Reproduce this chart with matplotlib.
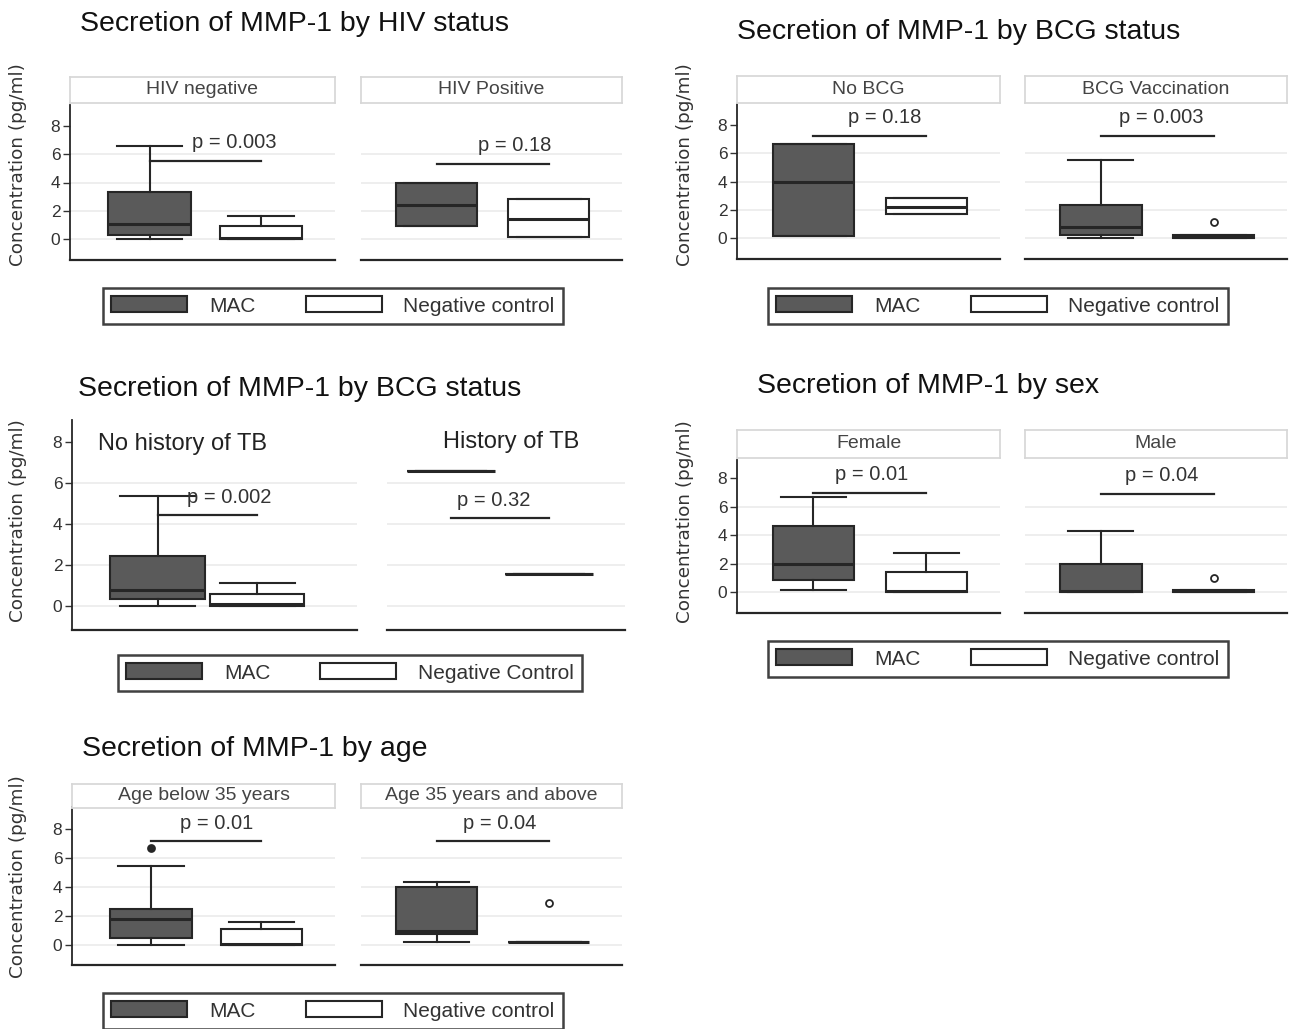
import matplotlib
matplotlib.use("Agg")
import matplotlib.pyplot as plt
from matplotlib.patches import Patch

W, H = 1289, 1029

# ---------------- data ----------------
# box stats per facet: (whislo, q1, med, q3, whishi)
HIV_FACETS = ["HIV negative", "HIV Positive"]
HIV_MAC = [(0.0, 0.29, 1.07, 3.33, 6.6), (0.93, 0.93, 2.38, 3.93, 3.93)]
HIV_NEG = [(0.0, 0.0, 0.05, 0.95, 1.6), (0.12, 0.12, 1.4, 2.83, 2.83)]
HIV_MAC_OUT = [[], []]
HIV_NEG_OUT = [[], []]
HIV_P = ["p = 0.003", "p = 0.18"]
HIV_PBAR = [5.52, 5.33]

BCG_FACETS = ["No BCG", "BCG Vaccination"]
BCG_MAC = [(0.12, 0.12, 3.93, 6.64, 6.64), (0.0, 0.24, 0.76, 2.36, 5.52)]
BCG_NEG = [(1.71, 1.71, 2.19, 2.83, 2.83), (0.0, 0.0, 0.08, 0.18, 0.18)]
BCG_MAC_OUT = [[], []]
BCG_NEG_OUT = [[], [1.12]]
BCG_P = ["p = 0.18", "p = 0.003"]
BCG_PBAR = [7.24, 7.24]

TB_FACETS = ["No history of TB", "History of TB"]
TB_MAC = [(0.0, 0.31, 0.74, 2.43, 5.36), (6.6, 6.6, 6.6, 6.6, 6.6)]
TB_NEG = [(0.0, 0.0, 0.08, 0.58, 1.12), (1.53, 1.53, 1.53, 1.53, 1.53)]
TB_MAC_OUT = [[], []]
TB_NEG_OUT = [[], []]
TB_P = ["p = 0.002", "p = 0.32"]
TB_PBAR = [4.42, 4.29]

SEX_FACETS = ["Female", "Male"]
SEX_MAC = [(0.16, 0.88, 1.97, 4.64, 6.66), (0.0, 0.05, 0.12, 1.97, 4.29)]
SEX_NEG = [(0.0, 0.0, 0.12, 1.39, 2.78), (0.0, 0.0, 0.08, 0.18, 0.18)]
SEX_MAC_OUT = [[], []]
SEX_NEG_OUT = [[], [0.97]]
SEX_P = ["p = 0.01", "p = 0.04"]
SEX_PBAR = [6.96, 6.9]

AGE_FACETS = ["Age below 35 years", "Age 35 years and above"]
AGE_MAC = [(0.0, 0.46, 1.74, 2.48, 5.4), (0.19, 0.77, 0.93, 4.0, 4.35)]
AGE_NEG = [(0.0, 0.0, 0.07, 1.11, 1.55), (0.19, 0.19, 0.19, 0.19, 0.19)]
AGE_MAC_OUT = [[6.66], []]
AGE_NEG_OUT = [[], [2.9]]
AGE_P = ["p = 0.01", "p = 0.04"]
AGE_PBAR = [7.13, 7.13]

YTICKS = [0, 2, 4, 6, 8]
GRID = [0, 2, 4, 6]

# ---------------- style ----------------
MAC_COLOR = "#5a5a5a"
EDGE = "#262626"
TXT = "#333333"
plt.rcParams["font.family"] = ["Liberation Sans", "DejaVu Sans"]

fig = plt.figure(figsize=(W / 100, H / 100), dpi=100)


def px_axes(x0, y0, x1, y1):
    return fig.add_axes([x0 / W, 1 - y1 / H, (x1 - x0) / W, (y1 - y0) / H])


def stats_of(box, out):
    lo, q1, med, q3, hi = box
    return dict(whislo=lo, q1=q1, med=med, q3=q3, whishi=hi, fliers=out)


def draw_panel(title, facets, mac, neg, mac_out, neg_out, pvals, pbars, lay,
               legend_labels=("MAC", "Negative control")):
    fig.text(lay["title"][0] / W, 1 - lay["title"][1] / H, title,
             fontsize=20.5, ha="left", va="center", color="#111111")
    fig.text(lay["ylabel"][0] / W, 1 - lay["ylabel"][1] / H, "Concentration (pg/ml)",
             family="DejaVu Sans", fontsize=13.2, rotation=90, ha="center", va="center",
             color=TXT)
    y0, y1 = lay["plot_y"]
    for i, (fx0, fx1) in enumerate(lay["facets"]):
        ax = px_axes(fx0, y0, fx1, y1)
        pos = lay["pos"][i]
        wd = lay["width"][i]
        for g in GRID:
            ax.axhline(g, color="#ebebeb", lw=1.2, zorder=0)
        art = ax.bxp([stats_of(mac[i], mac_out[i]), stats_of(neg[i], neg_out[i])],
                     positions=pos, widths=wd, capwidths=wd * 0.8,
                     patch_artist=True, showfliers=True,
                     boxprops=dict(edgecolor=EDGE, linewidth=1.5),
                     medianprops=dict(color=EDGE, linewidth=2.2),
                     whiskerprops=dict(color=EDGE, linewidth=1.5),
                     capprops=dict(color=EDGE, linewidth=1.5),
                     flierprops=dict(marker="o", markersize=5, markerfacecolor="white",
                                     markeredgecolor=EDGE, markeredgewidth=1.3))
        art["boxes"][0].set_facecolor(MAC_COLOR)
        art["boxes"][1].set_facecolor("white")
        art["fliers"][0].set_markerfacecolor(EDGE)
        # p-value bar
        ax.plot([pos[0], pos[1]], [pbars[i], pbars[i]], color=EDGE, lw=1.6)
        ax.annotate(pvals[i], xy=(lay["ptx"][i], pbars[i]), xytext=(0, 13),
                    textcoords="offset points", ha="center", va="center",
                    fontsize=14.5, color=TXT)
        ax.set_xlim(0, 1)
        ax.set_ylim(*lay["ylim"])
        ax.set_xticks([])
        for s in ("top", "right"):
            ax.spines[s].set_visible(False)
        ax.spines["bottom"].set_color(EDGE)
        ax.spines["bottom"].set_linewidth(1.6)
        if i == 0:
            ax.set_yticks(YTICKS)
            ax.set_yticklabels([str(t) for t in YTICKS])
            ax.tick_params(axis="y", length=5, width=1, color=TXT, labelsize=12.5,
                           labelcolor=TXT, pad=2)
            ax.spines["left"].set_color(EDGE)
            ax.spines["left"].set_linewidth(1.3)
        else:
            ax.set_yticks([])
            ax.spines["left"].set_visible(False)
        ax.patch.set_alpha(0)
        if lay["strip"] is not None:
            sa = px_axes(fx0, lay["strip"][0], fx1, lay["strip"][1])
            sa.set_xticks([])
            sa.set_yticks([])
            for sp in sa.spines.values():
                sp.set_color("#d6d6d6")
                sp.set_linewidth(1.2)
            sa.text(0.5, 0.5, facets[i], ha="center", va="center", fontsize=14,
                    color="#444444", transform=sa.transAxes)
        else:
            ax.text(lay["flab"][i][0], lay["flab"][i][1], facets[i], ha=lay["flab"][i][2],
                    va="center", fontsize=17, color="#222222")

    handles = [Patch(facecolor=MAC_COLOR, edgecolor=EDGE, linewidth=1.5),
               Patch(facecolor="white", edgecolor=EDGE, linewidth=1.5)]
    leg = fig.legend(handles, legend_labels, loc="center",
                     bbox_to_anchor=(lay["legend"][0] / W, 1 - lay["legend"][1] / H),
                     ncol=2, frameon=True, fancybox=False, fontsize=15,
                     handlelength=3.65, handleheight=0.8, handletextpad=1.05,
                     columnspacing=2.4, borderpad=0.4, borderaxespad=0)
    leg.get_frame().set_edgecolor("#111111")
    leg.get_frame().set_linewidth(1.8)
    for t in leg.get_texts():
        t.set_color(TXT)


LAY_A = dict(facets=[(70, 335), (361, 622)], plot_y=(105, 260), ylim=(-1.49, 9.49),
             strip=(77, 103), title=(80, 24), ylabel=(18, 165), legend=(333, 306),
             pos=[(0.30, 0.72), (0.29, 0.72)], width=[0.31, 0.31], ptx=[0.62, 0.59])
LAY_B = dict(facets=[(737, 1000), (1025, 1287)], plot_y=(104, 259), ylim=(-1.49, 9.49),
             strip=(76, 103), title=(737, 32), ylabel=(685, 165), legend=(998, 306),
             pos=[(0.29, 0.72), (0.29, 0.72)], width=[0.31, 0.31], ptx=[0.56, 0.52])
LAY_C = dict(facets=[(72, 357), (387, 625)], plot_y=(420, 630), ylim=(-1.2, 9.1),
             strip=None, title=(78, 389), ylabel=(18, 521), legend=(350, 673),
             pos=[(0.30, 0.65), (0.27, 0.68)], width=[0.33, 0.37], ptx=[0.55, 0.45],
             flab=[(0.09, 7.9, "left"), (0.52, 8.0, "center")])
LAY_D = dict(facets=[(737, 1000), (1025, 1287)], plot_y=(460, 613), ylim=(-1.45, 9.27),
             strip=(430, 458), title=(757, 386), ylabel=(685, 522), legend=(998, 659),
             pos=[(0.29, 0.72), (0.29, 0.72)], width=[0.31, 0.31], ptx=[0.51, 0.52])
LAY_E = dict(facets=[(72, 335), (361, 622)], plot_y=(807, 965), ylim=(-1.4, 9.5),
             strip=(784, 808), title=(82, 749), ylabel=(18, 877), legend=(333, 1011),
             pos=[(0.30, 0.72), (0.29, 0.72)], width=[0.31, 0.31], ptx=[0.55, 0.53])

draw_panel("Secretion of MMP-1 by HIV status", HIV_FACETS, HIV_MAC, HIV_NEG,
           HIV_MAC_OUT, HIV_NEG_OUT, HIV_P, HIV_PBAR, LAY_A)
draw_panel("Secretion of MMP-1 by BCG status", BCG_FACETS, BCG_MAC, BCG_NEG,
           BCG_MAC_OUT, BCG_NEG_OUT, BCG_P, BCG_PBAR, LAY_B)
draw_panel("Secretion of MMP-1 by BCG status", TB_FACETS, TB_MAC, TB_NEG,
           TB_MAC_OUT, TB_NEG_OUT, TB_P, TB_PBAR, LAY_C,
           legend_labels=("MAC", "Negative Control"))
draw_panel("Secretion of MMP-1 by sex", SEX_FACETS, SEX_MAC, SEX_NEG,
           SEX_MAC_OUT, SEX_NEG_OUT, SEX_P, SEX_PBAR, LAY_D)
draw_panel("Secretion of MMP-1 by age", AGE_FACETS, AGE_MAC, AGE_NEG,
           AGE_MAC_OUT, AGE_NEG_OUT, AGE_P, AGE_PBAR, LAY_E)

fig.savefig("out.png", dpi=100)
